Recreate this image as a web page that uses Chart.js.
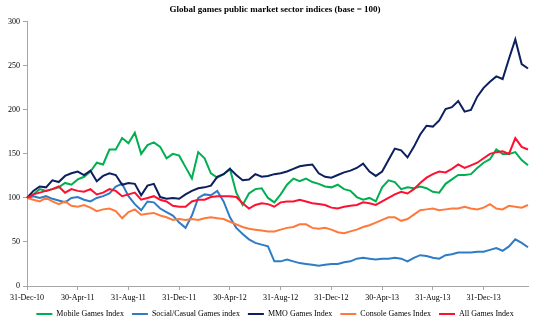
<!DOCTYPE html>
<html>
<head>
<meta charset="utf-8">
<script src="https://cdn.jsdelivr.net/npm/chart.js@4"></script>
<style>
  html, body { margin: 0; padding: 0; background: #fff; }
  #wrap { width: 550px; height: 322px; }
</style>
</head>
<body>
<div id="wrap"><canvas id="chart" width="550" height="322"></canvas></div>
<script>
// x-axis tick labels, one every 8 half-month points
var tickLabels = ["31-Dec-10", "30-Apr-11", "31-Aug-11", "31-Dec-11", "30-Apr-12",
                  "31-Aug-12", "31-Dec-12", "30-Apr-13", "31-Aug-13", "31-Dec-13"];

// series, roughly twice a month from 31-Dec-10
var mobile = [100, 104, 110, 108, 110, 112, 117, 115, 121, 124,
              130, 140, 138, 155, 155, 168, 162, 174, 150, 160,
              163, 158, 145, 150, 148, 135, 122, 152, 145, 128,
              123, 127, 133, 106, 92, 105, 110, 111, 100, 95,
              104, 115, 122, 119, 122, 118, 116, 113, 112, 115,
              110, 108, 101, 98, 100, 96, 112, 120, 118, 110,
              112, 111, 113, 111, 107, 106, 116, 121, 126, 126,
              127, 134, 140, 144, 155, 150, 150, 152, 143, 137];

var social = [100, 102, 100, 102, 99, 97, 95, 100, 101, 98,
              96, 100, 102, 105, 113, 116, 102, 93, 86, 96,
              95, 88, 84, 80, 72, 66, 80, 100, 104, 103,
              108, 96, 78, 66, 59, 53, 49, 47, 45, 28,
              28, 30, 28, 26, 25, 24, 23, 24, 25, 25,
              27, 28, 31, 32, 31, 30, 31, 31, 32, 31,
              28, 32, 35, 34, 32, 31, 35, 36, 38, 38,
              38, 39, 39, 41, 43, 40, 45, 53, 49, 44];

var mmo = [100, 108, 113, 112, 120, 118, 125, 128, 130, 126,
           131, 119, 125, 128, 126, 115, 117, 116, 103, 114,
           116, 101, 99, 100, 99, 104, 108, 111, 112, 114,
           124, 127, 133, 126, 120, 121, 127, 124, 125, 127,
           128, 130, 133, 136, 137, 138, 128, 124, 123, 126,
           129, 131, 134, 139, 130, 125, 130, 143, 156, 154,
           146, 158, 172, 182, 181, 188, 201, 203, 210, 198,
           200, 215, 225, 232, 238, 235, 258, 280, 252, 247];

var consoleIdx = [100, 98, 96, 100, 96, 93, 96, 91, 90, 92,
                  89, 85, 87, 88, 85, 77, 84, 87, 81, 82,
                  83, 80, 78, 75, 76, 75, 76, 75, 77, 78,
                  77, 76, 73, 70, 67, 65, 64, 63, 62, 62,
                  64, 66, 67, 70, 70, 66, 65, 66, 64, 61,
                  60, 62, 64, 67, 69, 72, 75, 78, 78, 74,
                  76, 81, 86, 87, 88, 86, 87, 88, 88, 90,
                  88, 87, 89, 93, 88, 87, 91, 90, 89, 92];

var allGames = [100, 104, 106, 108, 110, 113, 106, 110, 108, 107,
                110, 104, 106, 110, 108, 102, 104, 106, 98, 100,
                102, 98, 96, 91, 90, 90, 96, 98, 98, 101,
                102, 102, 102, 101, 94, 88, 92, 94, 93, 90,
                95, 96, 96, 98, 96, 94, 93, 92, 89, 88,
                90, 91, 92, 95, 94, 92, 96, 100, 104, 107,
                105, 110, 117, 123, 127, 130, 129, 133, 138, 134,
                137, 140, 145, 150, 152, 153, 150, 168, 158, 155];

var labels = [];
for (var i = 0; i < mobile.length; i++) {
    labels.push(i % 8 === 0 ? tickLabels[i / 8] : "");
}

function series(name, data, color, order) {
    return {
        label: name,
        data: data,
        borderColor: color,
        backgroundColor: color,
        borderWidth: 2,
        pointRadius: 0,
        tension: 0,
        order: order
    };
}

var axisFont = { family: "Liberation Serif", size: 8 };

var chart = new Chart(document.getElementById("chart").getContext("2d"), {
    type: "line",
    data: {
        labels: labels,
        datasets: [
            series("Mobile Games Index", mobile, "#00B050", 5),
            series("Social/Casual Games index", social, "#2E7CC6", 4),
            series("MMO Games Index", mmo, "#0C1F5E", 3),
            series("Console Games Index", consoleIdx, "#FF7A3A", 2),
            series("All Games Index", allGames, "#FF1030", 1)
        ]
    },
    options: {
        responsive: false,
        animation: false,
        devicePixelRatio: 1,
        layout: { padding: { left: 0, right: 0, top: 0, bottom: -6 } },
        plugins: {
            title: {
                display: true,
                text: "Global games public market sector indices (base = 100)",
                color: "#000",
                font: { family: "Liberation Serif", size: 9, weight: "bold" },
                padding: { top: 4, bottom: 7 }
            },
            legend: {
                position: "bottom",
                labels: {
                    color: "#000",
                    font: axisFont,
                    usePointStyle: true,
                    pointStyle: "line",
                    pointStyleWidth: 16,
                    padding: 8,
                    sort: function(a, b) { return a.datasetIndex - b.datasetIndex; }
                }
            },
            tooltip: { enabled: false }
        },
        scales: {
            x: {
                afterFit: function(s) { s.height = 16; },
                grid: { drawOnChartArea: false, tickLength: 4, color: "#A6A6A6" },
                border: { color: "#A6A6A6" },
                ticks: {
                    autoSkip: false,
                    maxRotation: 0,
                    color: "#000",
                    font: axisFont,
                    callback: function(v, i) { return labels[i] ? labels[i] : null; }
                }
            },
            y: {
                min: 0,
                max: 300,
                afterFit: function(s) { s.width = 27; },
                grid: { drawOnChartArea: false, tickLength: 4, color: "#A6A6A6" },
                border: { color: "#A6A6A6" },
                ticks: { stepSize: 50, color: "#000", font: axisFont }
            },
            // empty right-hand margin
            yRight: {
                position: "right",
                afterFit: function(s) { s.width = 22; },
                grid: { display: false },
                border: { display: false },
                ticks: { display: false }
            }
        }
    }
});
</script>
</body>
</html>
